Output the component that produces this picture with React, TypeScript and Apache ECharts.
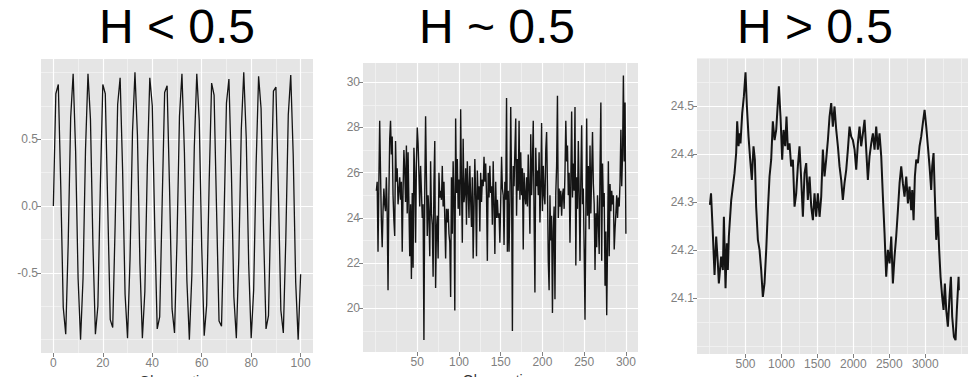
import React, { useEffect, useRef } from "react";
import * as echarts from "echarts";

// ---------- texts ----------
const panelTitles = ["H < 0.5", "H ~ 0.5", "H > 0.5"];
const xAxisTitle = "Observation";

// ---------- panel 1: anti-persistent series (obs 0..100) ----------
const antiValues = [
  0.0, 0.84, 0.91, 0.14, -0.76, -0.96, -0.28, 0.66, 0.99, 0.41,
  -0.54, -1.0, -0.54, 0.42, 0.99, 0.65, -0.29, -0.96, -0.75, 0.15,
  0.91, 0.84, -0.01, -0.85, -0.91, -0.13, 0.76, 0.96, 0.27, -0.66,
  -0.99, -0.4, 0.55, 1.0, 0.53, -0.43, -0.99, -0.64, 0.3, 0.96,
  0.75, -0.16, -0.92, -0.83, 0.02, 0.85, 0.9, 0.12, -0.77, -0.95,
  -0.26, 0.67, 0.99, 0.4, -0.56, -1.0, -0.52, 0.44, 0.99, 0.64,
  -0.31, -0.97, -0.74, 0.17, 0.92, 0.83, -0.03, -0.86, -0.9, -0.12,
  0.77, 0.95, 0.25, -0.68, -0.99, -0.39, 0.57, 1.0, 0.51, -0.44,
  -0.99, -0.63, 0.31, 0.97, 0.73, -0.18, -0.92, -0.82, 0.04, 0.86,
  0.89, 0.11, -0.78, -0.95, -0.25, 0.68, 0.98, 0.38, -0.57, -1.0,
  -0.51,
];
const antiStart = 0;

// ---------- panel 2: white-noise-like series (obs 1..300) ----------
const noiseValues = [
  25.2, 25.6, 22.5, 25.5, 28.3, 26.0, 23.9, 22.7, 24.3, 25.3, 24.6, 24.3, 25.8, 24.2, 20.8, 25.0, 27.5, 28.3, 26.8, 27.6,
  25.0, 23.9, 23.2, 27.4, 25.6, 26.2, 24.6, 25.2, 25.8, 24.8, 25.6, 22.5, 25.2, 27.0, 26.1, 24.7, 27.2, 24.2, 26.9, 24.6,
  22.3, 24.6, 21.3, 25.1, 21.8, 27.1, 26.0, 22.9, 26.4, 28.0, 27.3, 26.0, 24.5, 26.3, 25.2, 24.0, 24.6, 18.6, 25.2, 28.5,
  25.8, 23.2, 25.0, 24.1, 22.3, 26.5, 24.2, 23.7, 21.4, 25.5, 27.4, 20.9, 23.5, 24.1, 22.2, 26.0, 24.9, 25.2, 24.8, 26.3,
  24.5, 25.6, 24.0, 22.2, 24.4, 23.8, 24.4, 23.3, 22.9, 20.5, 25.8, 23.3, 26.5, 24.8, 19.9, 28.4, 25.1, 26.6, 24.4, 25.7,
  24.1, 28.8, 25.5, 22.9, 27.5, 24.7, 25.1, 26.2, 23.7, 26.5, 25.3, 24.0, 26.3, 24.8, 23.6, 25.8, 22.2, 24.4, 26.6, 25.0,
  22.3, 26.1, 24.8, 25.4, 23.4, 26.0, 24.7, 25.7, 25.4, 26.7, 25.6, 26.4, 25.0, 22.1, 26.0, 24.9, 26.3, 25.1, 25.4, 23.7,
  26.5, 24.6, 22.4, 25.6, 24.0, 24.8, 24.0, 24.2, 22.9, 24.7, 26.7, 25.3, 25.0, 22.8, 25.6, 24.8, 29.3, 22.5, 25.2, 22.5,
  24.8, 28.9, 25.5, 19.0, 26.3, 25.4, 27.0, 28.4, 24.1, 26.6, 25.2, 28.3, 24.8, 26.9, 25.0, 26.2, 22.6, 26.0, 25.0, 24.6,
  25.8, 24.5, 26.8, 25.2, 23.3, 27.7, 25.0, 26.4, 28.3, 24.0, 20.7, 27.1, 25.4, 26.1, 25.0, 26.9, 23.8, 25.3, 28.2, 24.3,
  26.3, 25.0, 24.6, 27.0, 27.8, 25.4, 22.1, 20.8, 25.0, 23.0, 24.1, 19.8, 23.4, 24.5, 20.4, 25.1, 26.3, 29.4, 24.0, 25.3,
  24.5, 25.2, 24.1, 25.0, 25.3, 24.4, 26.0, 28.3, 26.5, 27.2, 25.0, 26.0, 22.9, 25.6, 28.7, 24.9, 26.4, 25.2, 28.9, 21.9,
  25.8, 24.4, 27.4, 25.1, 22.1, 25.7, 28.1, 24.6, 25.3, 22.6, 19.5, 24.0, 28.4, 24.1, 26.3, 23.5, 27.2, 24.2, 26.0, 27.8,
  25.5, 24.6, 21.7, 24.2, 22.7, 25.0, 23.8, 22.4, 26.2, 29.1, 22.1, 26.4, 24.5, 25.1, 21.0, 23.4, 19.7, 22.8, 26.5, 22.3,
  25.5, 24.3, 25.2, 24.6, 25.0, 22.6, 23.5, 24.2, 25.0, 24.0, 24.9, 24.5, 25.6, 27.9, 25.4, 26.8, 30.3, 26.5, 29.1, 23.3,
];
const noiseStart = 1;

// ---------- panel 3: persistent series ----------
const trendX = [
  5, 20, 45, 69, 92, 115, 129, 161, 185, 199, 222, 240, 254, 268, 301, 347, 370, 384, 403, 417,
  430, 454, 477, 500, 519, 542, 565, 588, 611, 630, 648, 672, 695, 718, 741, 764, 788, 811, 834, 857,
  880, 904, 927, 941, 964, 987, 1010, 1029, 1052, 1070, 1089, 1112, 1135, 1159, 1182, 1205, 1228, 1251, 1275, 1298,
  1321, 1344, 1367, 1391, 1414, 1437, 1460, 1483, 1506, 1530, 1553, 1576, 1599, 1622, 1646, 1669, 1692, 1715, 1738, 1762,
  1785, 1808, 1831, 1854, 1877, 1901, 1924, 1947, 1970, 1993, 2017, 2040, 2063, 2086, 2109, 2133, 2156, 2179, 2202, 2225,
  2249, 2272, 2295, 2318, 2341, 2364, 2388, 2411, 2434, 2457, 2480, 2504, 2527, 2550, 2573, 2596, 2620, 2643, 2666, 2689,
  2712, 2736, 2759, 2782, 2805, 2819, 2838, 2856, 2875, 2898, 2921, 2944, 2967, 2991, 3014, 3037, 3060, 3083, 3097, 3116,
  3134, 3153, 3176, 3194, 3213, 3236, 3255, 3273, 3292, 3315, 3338, 3357, 3375, 3399, 3422, 3440, 3464, 3468,
];
const trendY = [
  24.295, 24.319, 24.236, 24.149, 24.229, 24.173, 24.131, 24.187, 24.159, 24.27, 24.121, 24.215, 24.159, 24.229, 24.305, 24.361, 24.403, 24.469, 24.417, 24.444,
  24.423, 24.486, 24.521, 24.571, 24.5, 24.437, 24.389, 24.347, 24.417, 24.389, 24.291, 24.222, 24.201, 24.159, 24.103, 24.131, 24.201, 24.284, 24.354, 24.389,
  24.469, 24.43, 24.451, 24.486, 24.542, 24.479, 24.389, 24.451, 24.417, 24.479, 24.41, 24.423, 24.375, 24.389, 24.291, 24.319, 24.375, 24.417, 24.347, 24.27,
  24.361, 24.382, 24.305, 24.354, 24.291, 24.263, 24.319, 24.27, 24.319, 24.27, 24.312, 24.41, 24.354, 24.389, 24.43, 24.479, 24.507, 24.458, 24.5, 24.451,
  24.417, 24.375, 24.347, 24.305, 24.34, 24.368, 24.41, 24.458, 24.437, 24.43, 24.41, 24.368, 24.423, 24.458, 24.417, 24.444, 24.472, 24.41, 24.347, 24.396,
  24.423, 24.444, 24.41, 24.458, 24.41, 24.444, 24.396, 24.312, 24.236, 24.145, 24.201, 24.173, 24.229, 24.131, 24.187, 24.229, 24.284, 24.34, 24.375, 24.34,
  24.312, 24.354, 24.298, 24.333, 24.284, 24.326, 24.263, 24.354, 24.389, 24.382, 24.417, 24.437, 24.465, 24.493, 24.458, 24.417, 24.375, 24.326, 24.375, 24.403,
  24.312, 24.222, 24.27, 24.201, 24.145, 24.103, 24.076, 24.131, 24.076, 24.041, 24.103, 24.145, 24.062, 24.02, 24.013, 24.076, 24.145, 24.117,
];

// ---------- axis breaks ----------
const p1XMajor = [0, 20, 40, 60, 80, 100];
const p1XMinor = [10, 30, 50, 70, 90];
const p1YMajor = [-0.5, 0, 0.5];
const p1YMinor = [-1, -0.75, -0.25, 0.25, 0.75, 1];

const p2XMajor = [50, 100, 150, 200, 250, 300];
const p2XMinor = [0, 25, 75, 125, 175, 225, 275];
const p2YMajor = [20, 22, 24, 26, 28, 30];
const p2YMinor = [19, 21, 23, 25, 27, 29];

const p3XMajor = [500, 1000, 1500, 2000, 2500, 3000];
const p3XMinor = [0, 250, 750, 1250, 1750, 2250, 2750, 3250, 3500];
const p3YMajor = [24.1, 24.2, 24.3, 24.4, 24.5];
const p3YMinor = [24.0, 24.05, 24.15, 24.25, 24.35, 24.45, 24.55, 24.6];

const PANEL_BG = "#E5E5E5";
const LABEL_COLOR = "#808080";
const LINE_COLOR = "#141414";
const FONT = "Liberation Sans, Arial, sans-serif";

function axisPair(
  dim: "x" | "y",
  gridIndex: number,
  min: number,
  max: number,
  major: number[],
  minor: number[],
  fmt: (v: number) => string,
  name?: string
) {
  const majorAxis: any = {
    type: "value",
    gridIndex,
    min,
    max,
    z: 1,
    axisLine: { show: false, onZero: false },
    axisTick: {
      show: true,
      length: 4,
      customValues: major,
      lineStyle: { color: LABEL_COLOR, width: 1 },
    },
    axisLabel: {
      show: true,
      customValues: major,
      color: LABEL_COLOR,
      fontSize: 12,
      fontFamily: FONT,
      margin: dim === "x" ? 4 : 3,
      formatter: (v: number) => fmt(v),
      hideOverlap: false,
    },
    splitLine: { show: true, lineStyle: { color: "#FFFFFF", width: 1.2 } },
  };
  if (name) {
    majorAxis.name = name;
    majorAxis.nameLocation = "middle";
    majorAxis.nameGap = 18;
    majorAxis.nameTextStyle = {
      color: "#333333",
      fontSize: 14,
      fontFamily: FONT,
    };
  }
  const minorAxis: any = {
    type: "value",
    gridIndex,
    min,
    max,
    z: 0,
    axisLine: { show: false, onZero: false },
    axisTick: { show: false, customValues: minor },
    axisLabel: { show: false, customValues: minor },
    splitLine: { show: true, lineStyle: { color: "#F2F2F2", width: 0.8 } },
  };
  return [majorAxis, minorAxis];
}

export default function App() {
  const ref = useRef<HTMLDivElement>(null);

  useEffect(() => {
    if (!ref.current) return;
    const chart = echarts.init(ref.current, undefined, { renderer: "svg" });

    const antiData = antiValues.map((v, i) => [antiStart + i, v]);
    const noiseData = noiseValues.map((v, i) => [noiseStart + i, v]);
    const trendData = trendX.map((x, i) => [x, trendY[i]]);

    const f1 = (v: number) => v.toFixed(1);
    const f0 = (v: number) => String(Math.round(v));

    const xAxes = [
      ...axisPair("x", 0, -5, 105, p1XMajor, p1XMinor, f0, xAxisTitle),
      ...axisPair("x", 1, -15, 314.5, p2XMajor, p2XMinor, f0, xAxisTitle),
      ...axisPair("x", 2, -175, 3595, p3XMajor, p3XMinor, f0),
    ];
    const yAxes = [
      ...axisPair("y", 0, -1.1, 1.1, p1YMajor, p1YMinor, f1),
      ...axisPair("y", 1, 18.07, 30.85, p2YMajor, p2YMinor, f0),
      ...axisPair("y", 2, 23.984, 24.601, p3YMajor, p3YMinor, f1),
    ];

    const grids = [
      { left: 41, top: 59, width: 272, height: 294 },
      { left: 363, top: 63, width: 275, height: 289 },
      { left: 697, top: 58, width: 271, height: 296 },
    ].map((g) => ({
      ...g,
      show: true,
      backgroundColor: PANEL_BG,
      borderWidth: 0,
      containLabel: false,
      outerBoundsMode: "none",
    }));

    const titleX = [177, 497, 815];

    const lineSeries = (data: number[][], idx: number, width: number) => ({
      type: "line",
      xAxisIndex: idx * 2,
      yAxisIndex: idx * 2,
      data,
      showSymbol: false,
      symbol: "none",
      lineStyle: { color: LINE_COLOR, width },
      z: 3,
    });

    chart.setOption({
      animation: false,
      grid: grids,
      xAxis: xAxes,
      yAxis: yAxes,
      series: [
        lineSeries(antiData, 0, 1.3),
        lineSeries(noiseData, 1, 1.4),
        lineSeries(trendData, 2, 2.0),
      ],
      graphic: panelTitles.map((t, i) => ({
        type: "text",
        x: titleX[i],
        y: 26.5,
        style: {
          text: t,
          fontSize: 48,
          fontFamily: FONT,
          fill: "#000000",
          align: "center",
          verticalAlign: "middle",
        },
      })),
    });

    return () => {
      chart.dispose();
    };
  }, []);

  return (
    <div
      ref={ref}
      style={{ position: "fixed", left: 0, top: 0, width: 976, height: 377, background: "#FFFFFF" }}
    />
  );
}
